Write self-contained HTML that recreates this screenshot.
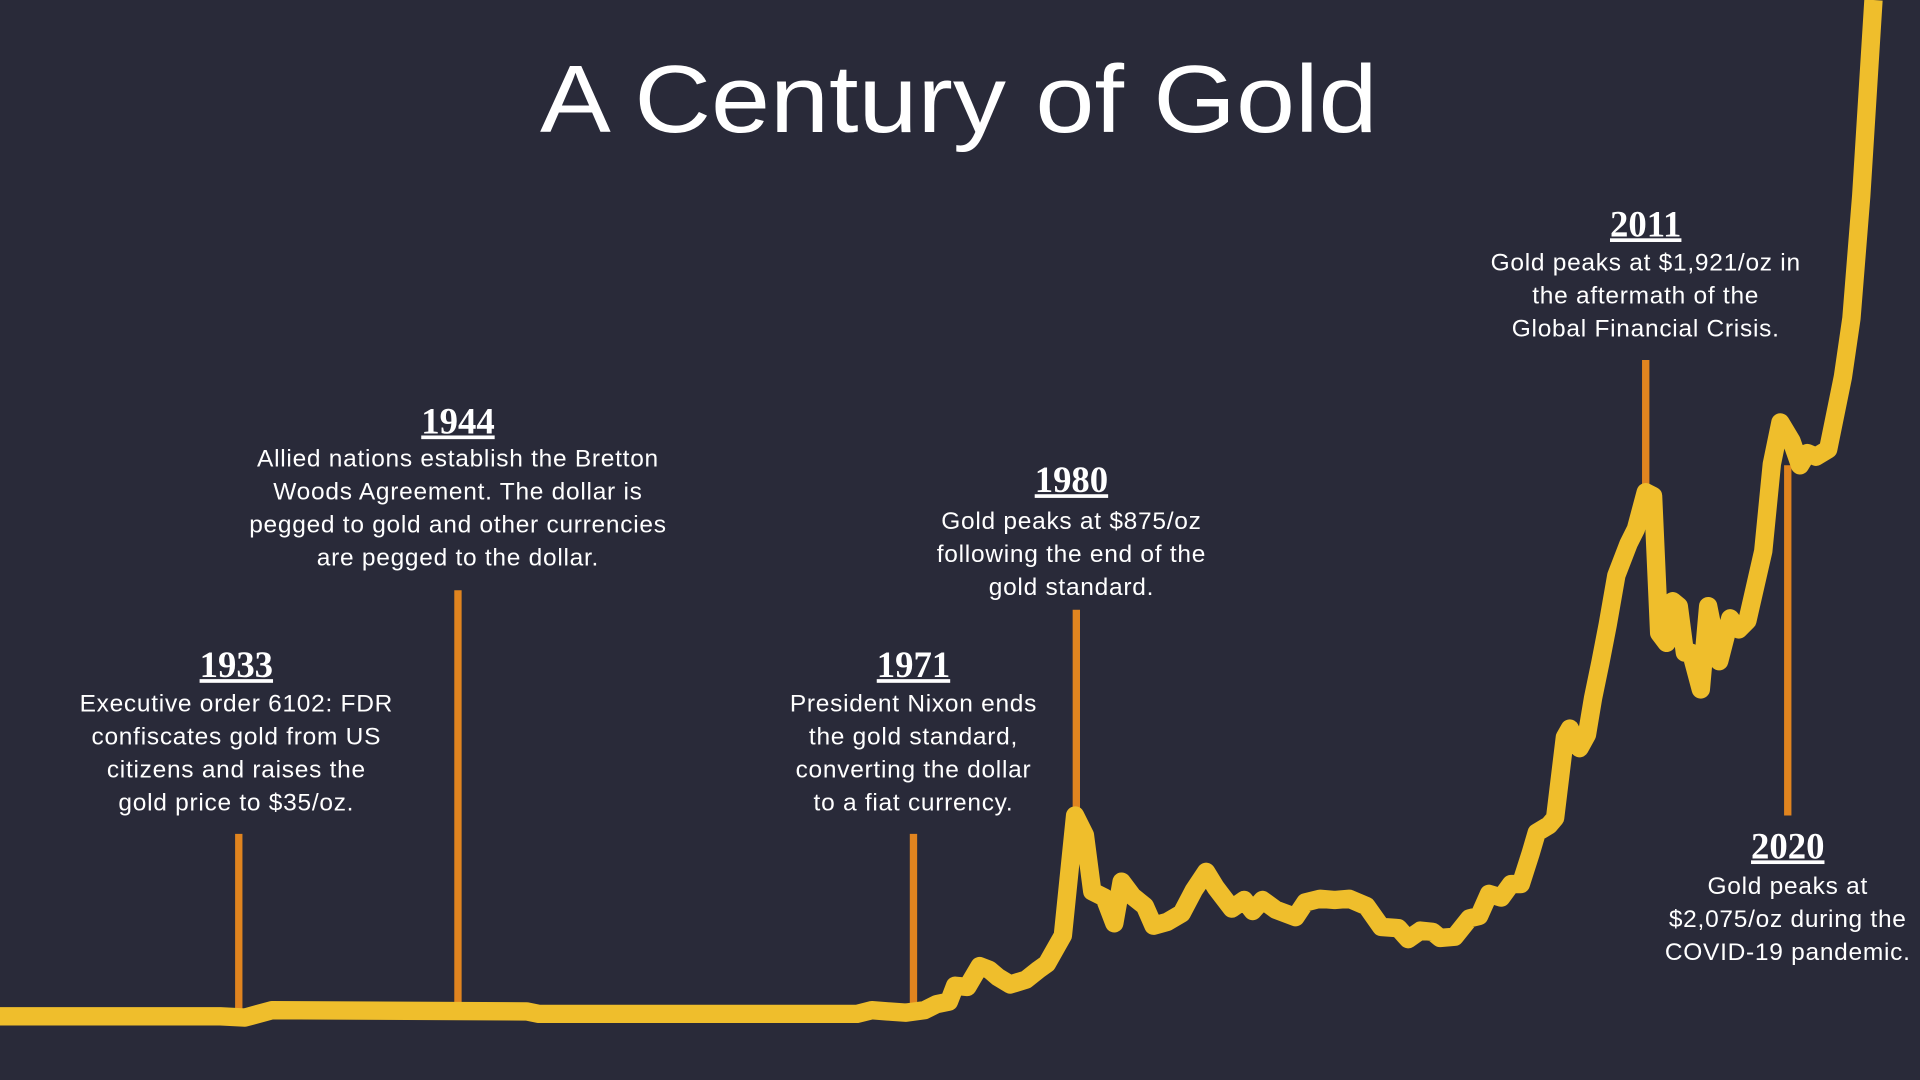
<!DOCTYPE html>
<html><head><style>
html,body{margin:0;padding:0;background:#292a39;}
svg{display:block}
.t{font-family:"Liberation Sans",sans-serif;fill:#fff;font-size:20px;letter-spacing:0.6px;text-anchor:middle}
.y{font-family:"Liberation Serif",serif;fill:#fff;font-size:30px;font-weight:bold;text-anchor:middle;text-decoration:underline}
</style></head><body>
<svg width="1920" height="1080" viewBox="0 0 1568 882" preserveAspectRatio="none">
<rect width="1568" height="882" fill="#292a39"/>
<text x="441" y="108" textLength="684" lengthAdjust="spacingAndGlyphs" style="font-family:'Liberation Sans',sans-serif;fill:#fff;font-size:78px">A Century of Gold</text>
<g stroke="#e0841f" stroke-width="6">
<line x1="195" y1="681" x2="195" y2="828"/>
<line x1="374" y1="482" x2="374" y2="828"/>
<line x1="746" y1="681" x2="746" y2="828"/>
<line x1="879" y1="498" x2="879" y2="670"/>
<line x1="1344" y1="294" x2="1344" y2="405"/>
<line x1="1460" y1="380" x2="1460" y2="666"/>
</g>
<polyline fill="none" stroke="#efbe2c" stroke-width="15" stroke-linejoin="round" points="0,830 180,830 200,831 222,825 430,826 440,828 700,828 712,825 725,826 740,827 755,825 765,820 775,818 780,805 790,806 800,789 808,792 815,798 825,804 838,800 848,792 855,787 868,764 878,666 886,682 892,728 902,733 910,754 916,720 925,732 935,740 942,756 953,753 965,746 975,727 985,712 993,725 1006,742 1016,735 1023,744 1031,735 1042,743 1058,749 1066,737 1078,734 1090,735 1102,734 1116,740 1128,757 1142,758 1150,767 1160,760 1170,761 1176,766 1188,765 1200,750 1208,748 1216,730 1226,733 1234,722 1242,722 1250,697 1255,680 1265,674 1270,668 1278,602 1282,595 1290,611 1296,600 1301,570 1307,541 1313,510 1320,470 1330,444 1336,432 1344,402 1350,405 1355,517 1361,525 1366,491 1371,495 1376,533 1381,533 1389,563 1395,495 1404,540 1413,505 1420,514 1427,507 1440,450 1447,379 1454,345 1463,360 1470,380 1476,370 1483,373 1493,367 1505,308 1512,260 1520,160 1530,0"/>
<text x="193" y="553" class="y">1933</text>
<text class="t"><tspan x="193" y="581">Executive order 6102: FDR</tspan><tspan x="193" y="608">confiscates gold from US</tspan><tspan x="193" y="635">citizens and raises the</tspan><tspan x="193" y="662">gold price to $35/oz.</tspan></text>
<text x="374" y="354" class="y">1944</text>
<text class="t"><tspan x="374" y="381">Allied nations establish the Bretton</tspan><tspan x="374" y="408">Woods Agreement. The dollar is</tspan><tspan x="374" y="435">pegged to gold and other currencies</tspan><tspan x="374" y="462">are pegged to the dollar.</tspan></text>
<text x="746" y="553" class="y">1971</text>
<text class="t"><tspan x="746" y="581">President Nixon ends</tspan><tspan x="746" y="608">the gold standard,</tspan><tspan x="746" y="635">converting the dollar</tspan><tspan x="746" y="662">to a fiat currency.</tspan></text>
<text x="875" y="402" class="y">1980</text>
<text class="t"><tspan x="875" y="432">Gold peaks at $875/oz</tspan><tspan x="875" y="459">following the end of the</tspan><tspan x="875" y="486">gold standard.</tspan></text>
<text x="1344" y="193" class="y">2011</text>
<text class="t"><tspan x="1344" y="221">Gold peaks at $1,921/oz in</tspan><tspan x="1344" y="248">the aftermath of the</tspan><tspan x="1344" y="275">Global Financial Crisis.</tspan></text>
<text x="1460" y="701" class="y">2020</text>
<text class="t"><tspan x="1460" y="730">Gold peaks at</tspan><tspan x="1460" y="757">$2,075/oz during the</tspan><tspan x="1460" y="784">COVID-19 pandemic.</tspan></text>
</svg>
</body></html>
